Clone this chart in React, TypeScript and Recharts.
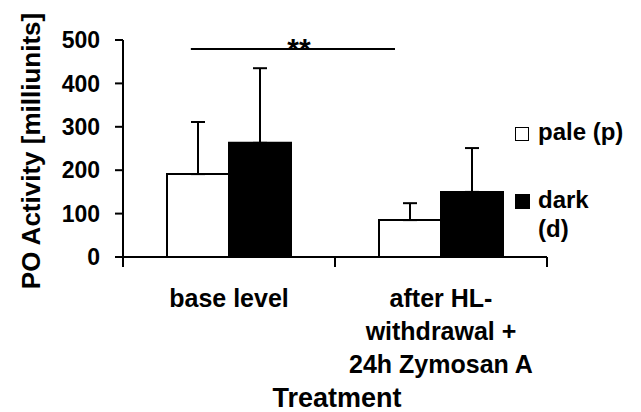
import {
  BarChart,
  Bar,
  XAxis,
  YAxis,
  ErrorBar,
  Legend,
  ReferenceLine,
  ReferenceDot,
} from "recharts"

const categories = ["base level", "after HL- withdrawal + 24h Zymosan A"]
const categoryLines = [["base level"], ["after HL-", "withdrawal +", "24h Zymosan A"]]
const paleMeans = [191, 85]
const paleErrors = [120, 39]
const darkMeans = [263, 150]
const darkErrors = [172, 101]
const yTicks = [0, 100, 200, 300, 400, 500]
const seriesNames = ["pale (p)", "dark (d)"]
const legendLines = [["pale (p)"], ["dark", "(d)"]]

const data = categories.map((name, i) => ({
  name,
  pale: paleMeans[i],
  paleErr: [0, paleErrors[i]],
  dark: darkMeans[i],
  darkErr: [0, darkErrors[i]],
}))

const FONT = '"Liberation Sans", Arial, sans-serif'

function CategoryTick(props: any) {
  const { x, y, payload } = props
  const lines = categoryLines[payload.index] ?? [String(payload.value)]
  return (
    <text
      x={x}
      y={y + 50}
      textAnchor="middle"
      fontFamily={FONT}
      fontWeight="bold"
      fontSize={25}
      fill="#000"
    >
      {lines.map((l, i) => (
        <tspan key={i} x={x} dy={i === 0 ? 0 : 33}>
          {l}
        </tspan>
      ))}
    </text>
  )
}

function LegendBox() {
  const textStyle = {
    position: "absolute" as const,
    left: 23,
    fontFamily: FONT,
    fontWeight: "bold" as const,
    fontSize: 24,
    color: "#000",
    whiteSpace: "nowrap" as const,
  }
  return (
    <div style={{ position: "relative", width: 126, height: 160 }}>
      <div
        style={{
          position: "absolute",
          left: 0,
          top: 11,
          width: 12,
          height: 12,
          border: "1.5px solid #000",
          background: "#fff",
        }}
      />
      <div style={{ ...textStyle, top: 1, lineHeight: "30px" }} title={seriesNames[0]}>
        {legendLines[0].map((l, i) => (
          <div key={i}>{l}</div>
        ))}
      </div>
      <div
        style={{
          position: "absolute",
          left: 0,
          top: 78,
          width: 15,
          height: 15,
          background: "#000",
        }}
      />
      <div style={{ ...textStyle, top: 69, lineHeight: "29px" }} title={seriesNames[1]}>
        {legendLines[1].map((l, i) => (
          <div key={i}>{l}</div>
        ))}
      </div>
    </div>
  )
}

export default function App() {
  return (
    <div style={{ position: "absolute", left: 0, top: 0, background: "#fff" }}>
      <BarChart
        width={641}
        height={412}
        data={data}
        margin={{ top: 40, right: 94, left: 0, bottom: 0 }}
        barCategoryGap={44}
        barGap={0}
      >
        <XAxis
          dataKey="name"
          interval={0}
          height={155}
          axisLine={{ stroke: "#000", strokeWidth: 2 }}
          tickLine={false}
          tickSize={0}
          tickMargin={0}
          tick={<CategoryTick />}
          label={{
            content: (p: any) => {
              const vb = p.viewBox
              return (
                <text
                  x={vb.x + vb.width / 2 + 2}
                  y={vb.y + 150}
                  textAnchor="middle"
                  fontFamily={FONT}
                  fontWeight="bold"
                  fontSize={27}
                  fill="#000"
                >
                  Treatment
                </text>
              )
            },
          }}
        />
        <XAxis
          xAxisId="num"
          type="number"
          dataKey={(d: any) => categories.indexOf(d.name) + 0.5}
          domain={[0, 2]}
          allowDataOverflow
          hide
        />
        <YAxis
          width={123}
          domain={[0, 500]}
          ticks={yTicks}
          interval={0}
          axisLine={{ stroke: "#000", strokeWidth: 2 }}
          tickLine={{ stroke: "#000", strokeWidth: 2 }}
          tickSize={8}
          tickMargin={15}
          tick={{ fill: "#000", fontFamily: FONT, fontWeight: "bold", fontSize: 23 }}
          label={{
            content: () => (
              <text
                x={40}
                y={151}
                transform="rotate(-90 40 151)"
                textAnchor="middle"
                fontFamily={FONT}
                fontWeight="bold"
                fontSize={26}
                fill="#000"
              >
                PO Activity [milliunits]
              </text>
            ),
          }}
        />
        <Legend
          layout="vertical"
          align="center"
          verticalAlign="middle"
          wrapperStyle={{ left: 515, top: 116, width: 126, height: 160 }}
          content={() => <LegendBox />}
        />
        <Bar
          dataKey="pale"
          name={seriesNames[0]}
          fill="#fff"
          stroke="#000"
          strokeWidth={2}
          isAnimationActive={false}
        >
          <ErrorBar dataKey="paleErr" direction="y" width={7} stroke="#000" strokeWidth={2} />
        </Bar>
        <Bar
          dataKey="dark"
          name={seriesNames[1]}
          fill="#000"
          stroke="#000"
          strokeWidth={2}
          isAnimationActive={false}
        >
          <ErrorBar dataKey="darkErr" direction="y" width={7} stroke="#000" strokeWidth={2} />
        </Bar>
        {/* category boundary ticks below the x axis */}
        {[0, 1, 2].map((t) => (
          <ReferenceLine
            key={t}
            xAxisId="num"
            segment={[
              { x: t, y: 0 },
              { x: t, y: -23 },
            ]}
            stroke="#000"
            strokeWidth={2}
            ifOverflow="visible"
          />
        ))}
        <ReferenceLine
          xAxisId="num"
          segment={[
            { x: 0.32, y: 479 },
            { x: 1.283, y: 479 },
          ]}
          stroke="#000"
          strokeWidth={2}
          ifOverflow="visible"
        />
        <ReferenceDot
          xAxisId="num"
          x={0.83}
          y={479}
          r={0}
          stroke="none"
          fill="none"
          ifOverflow="visible"
          label={{
            content: (p: any) => {
              const vb = p.viewBox || {}
              const cx = (vb.x ?? 0) + (vb.width ?? 0) / 2
              const cy = (vb.y ?? 0) + (vb.height ?? 0) / 2
              return (
                <text
                  x={cx}
                  y={cy + 10}
                  textAnchor="middle"
                  fontFamily={FONT}
                  fontWeight="bold"
                  fontSize={30}
                  fill="#000"
                >
                  **
                </text>
              )
            },
          }}
        />
      </BarChart>
    </div>
  )
}
